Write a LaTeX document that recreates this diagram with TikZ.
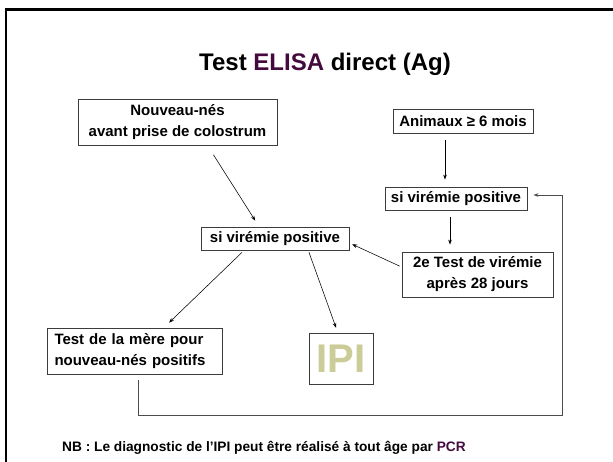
\documentclass[tikz,border=0pt]{standalone}
\usepackage{fontspec}
\setmainfont{Liberation Sans}
\usetikzlibrary{arrows.meta}
\definecolor{elisapurple}{RGB}{68,10,62}
\definecolor{ipikhaki}{RGB}{204,204,153}
\definecolor{boxgray}{RGB}{60,60,60}
\begin{document}
\begin{tikzpicture}[x=1pt,y=-1pt,
  box/.style={draw=boxgray, line width=0.9pt, fill=white, inner sep=0pt,
    font=\fontsize{15}{21}\selectfont\bfseries, align=center},
  conn/.style={draw=black, line width=0.55pt, -{Stealth[length=5pt,width=3.6pt]}},
  loopline/.style={draw=black!70, line width=0.9pt, -{Stealth[length=5pt,width=3.6pt]}}]
\useasboundingbox (0,0) rectangle (613,462);
% slide frame
\draw[line width=2.6pt, black] (6,462) -- (6,9.5) -- (613,9.5);
% title
\node[font=\fontsize{24}{28}\selectfont\bfseries] (title) at (325,64)
  {Test \textcolor{elisapurple}{ELISA} direct (Ag)};
% boxes
\node[box, minimum width=199pt, minimum height=46pt] (nn) at (177.5,122)
  {Nouveau-nés\\avant prise de colostrum};
\node[box, minimum width=140pt, minimum height=24pt] (an) at (463,121)
  {Animaux ≥ 6 mois};
\node[box, minimum width=142pt, minimum height=23pt] (rsv) at (456,198.5)
  {si virémie positive};
\node[box, minimum width=148pt, minimum height=23pt] (csv) at (275,238.5)
  {si virémie positive};
\node[box, minimum width=151pt, minimum height=45pt] (t2) at (477.5,274.5)
  {2e Test de virémie\\après 28 jours};
\node[box, minimum width=175pt, minimum height=46pt, align=left, text width=160pt] (mom) at (134.5,351)
  {Test de la mère pour\\nouveau-nés positifs};
\node[box, minimum width=64pt, minimum height=51pt, text=ipikhaki,
  font=\fontsize{40}{44}\selectfont\bfseries] (ipi) at (341,358.5) {IPI};
% NB
\node[anchor=west, font=\fontsize{13.7}{16}\selectfont\bfseries, inner sep=0pt] (nb) at (62,448)
  {NB : Le diagnostic de l’IPI peut être réalisé à tout âge par \textcolor{elisapurple}{PCR}};
% connectors
\draw[conn, shorten <=11pt, shorten >=7pt] ([xshift=30pt]nn.south) -- ([xshift=-16pt]csv.north);
\draw[conn, shorten <=7pt, shorten >=7pt] ([xshift=-18pt]an.south) -- ([xshift=-11pt]rsv.north);
\draw[conn, shorten <=7pt, shorten >=7pt] ([xshift=-6pt]rsv.south) -- ([xshift=-27.5pt]t2.north);
\draw[conn, shorten <=2pt, shorten >=3pt] ([yshift=7.5pt]t2.west) -- ([yshift=-4.5pt]csv.east);
\draw[conn, shorten <=3pt, shorten >=7pt] ([xshift=-31pt]csv.south) -- ([xshift=29.5pt]mom.north);
\draw[conn, shorten <=2pt, shorten >=5pt] ([xshift=33.3pt]csv.south) -- ([xshift=-3.2pt]ipi.north);
\coordinate (lc) at (562,415);
\draw[loopline, shorten <=6pt, shorten >=6pt] ([xshift=3.5pt]mom.south) |- (lc) |- ([yshift=3.5pt]rsv.east);
\end{tikzpicture}
\end{document}
